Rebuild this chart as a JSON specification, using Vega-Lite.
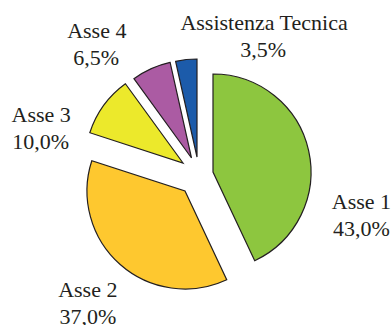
{
  "$schema": "https://vega.github.io/schema/vega-lite/v6.json",
  "width": 386,
  "height": 300,
  "autosize": {"type": "none"},
  "padding": {"left": 6, "top": 25, "right": 0, "bottom": 0},
  "background": "white",
  "config": {
    "view": {"stroke": null},
    "locale": {"number": {"decimal": ",", "thousands": ".", "grouping": [3], "currency": ["", " €"]}},
    "arc": {"radius": 98, "stroke": "#231f20", "strokeWidth": 1.2},
    "text": {"font": "Liberation Serif", "fontSize": 22, "fill": "#231f20", "radius": 150, "align": "center", "baseline": "alphabetic"}
  },
  "data": {
    "values": [
      {"asse": "Asse 1", "quota": 0.43},
      {"asse": "Asse 2", "quota": 0.37},
      {"asse": "Asse 3", "quota": 0.10},
      {"asse": "Asse 4", "quota": 0.065},
      {"asse": "Assistenza Tecnica", "quota": 0.035}
    ]
  },
  "encoding": {
    "theta": {"field": "quota", "type": "quantitative", "stack": true, "scale": {"domain": [0, 1]}},
    "order": {"field": "asse", "type": "ordinal", "sort": "ascending"}
  },
  "layer": [
    {
      "encoding": {"opacity": {"condition": {"test": "datum.asse === 'Asse 1'", "value": 1}, "value": 0}},
      "layer": [
        {"mark": {"type": "arc", "xOffset": 14, "yOffset": -3, "fill": "#8dc63f"}},
        {"mark": {"type": "text", "dx": 16, "dy": 67}, "encoding": {"text": {"field": "asse"}}},
        {"mark": {"type": "text", "dx": 16, "dy": 93.5}, "encoding": {"text": {"field": "quota", "format": ".1%"}}}
      ]
    },
    {
      "encoding": {"opacity": {"condition": {"test": "datum.asse === 'Asse 2'", "value": 1}, "value": 0}},
      "layer": [
        {"mark": {"type": "arc", "xOffset": -14, "yOffset": 16, "fill": "#fec82f"}},
        {"mark": {"type": "text", "dx": -12, "dy": 9}, "encoding": {"text": {"field": "asse"}}},
        {"mark": {"type": "text", "dx": -12, "dy": 36}, "encoding": {"text": {"field": "quota", "format": ".1%"}}}
      ]
    },
    {
      "encoding": {"opacity": {"condition": {"test": "datum.asse === 'Asse 3'", "value": 1}, "value": 0}},
      "layer": [
        {"mark": {"type": "arc", "xOffset": -16, "yOffset": -12, "fill": "#ece92b"}},
        {"mark": {"type": "text", "dx": -36.5, "dy": 35.5}, "encoding": {"text": {"field": "asse"}}},
        {"mark": {"type": "text", "dx": -37, "dy": 62}, "encoding": {"text": {"field": "quota", "format": ".1%"}}}
      ]
    },
    {
      "encoding": {"opacity": {"condition": {"test": "datum.asse === 'Asse 4'", "value": 1}, "value": 0}},
      "layer": [
        {"mark": {"type": "arc", "xOffset": -7.5, "yOffset": -17, "fill": "#ab5ba3"}},
        {"mark": {"type": "text", "dx": -40.5, "dy": -0.5}, "encoding": {"text": {"field": "asse"}}},
        {"mark": {"type": "text", "dx": -41, "dy": 27}, "encoding": {"text": {"field": "quota", "format": ".1%"}}}
      ]
    },
    {
      "encoding": {"opacity": {"condition": {"test": "datum.asse === 'Assistenza Tecnica'", "value": 1}, "value": 0}},
      "layer": [
        {"mark": {"type": "arc", "xOffset": -2, "yOffset": -18, "fill": "#1c5baa"}},
        {"mark": {"type": "text", "dx": 81.5, "dy": 4}, "encoding": {"text": {"field": "asse"}}},
        {"mark": {"type": "text", "dx": 80.5, "dy": 31.5}, "encoding": {"text": {"field": "quota", "format": ".1%"}}}
      ]
    }
  ]
}
